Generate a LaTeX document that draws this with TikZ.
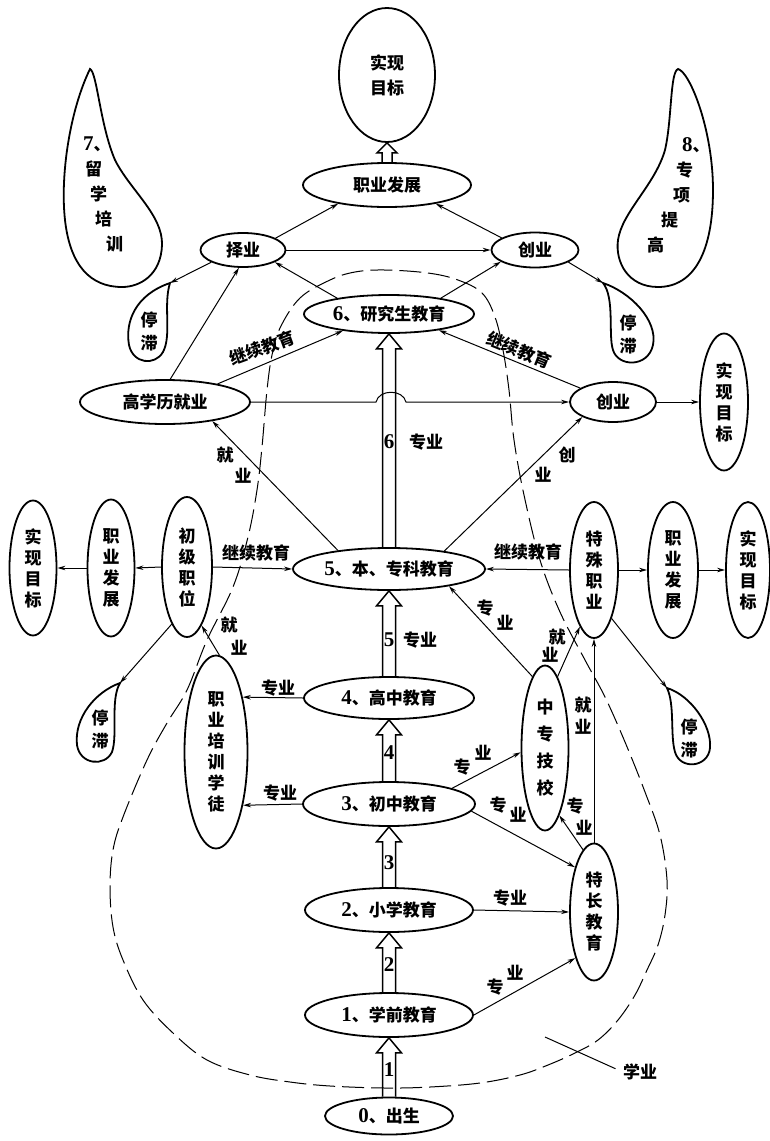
\documentclass[tikz,border=0pt]{standalone}
\usepackage{fontspec}
\setmainfont{Noto Sans CJK SC}
\newfontfamily\numf{Liberation Serif}
\usetikzlibrary{shapes.geometric,arrows.meta,calc}
\newcommand\dg[1]{{\numf\fontsize{21}{21}\selectfont #1}}
\newcommand\hollowar[5]{\draw[hol] ($(#1.north)+(-#3,0)$) -- ($(#2.south)+(-#3,#5)$) -- ($(#2.south)+(-#4,#5)$) -- (#2.south) -- ($(#2.south)+(#4,#5)$) -- ($(#2.south)+(#3,#5)$) -- ($(#1.north)+(#3,0)$);}
\tikzset{
  ell/.style={ellipse, draw, line width=1.8pt, fill=white, inner sep=0pt, align=center,
    font=\fontsize{17}{21}\selectfont\bfseries},
  con/.style={line width=1pt, -{Stealth[length=8pt,width=4.5pt]}},
  lab/.style={inner sep=0pt, font=\fontsize{17}{21}\selectfont\bfseries},
  hol/.style={line width=1.5pt, line join=miter},
  tear/.style={line width=1.8pt, fill=white},
  dashloop/.style={line width=1pt, dash pattern=on 22pt off 7pt}
}
\begin{document}
\begin{tikzpicture}[x=1pt,y=-1pt]
\fill[white] (0,0) rectangle (770,1141);
\useasboundingbox (0,0) rectangle (770,1141);

% dashed study loop
\draw[dashloop] plot[smooth cycle, tension=0.6] coordinates {(385,270) (428,273) (458,280) (482,293) (495,317) (503,350) (509,390) (514,440) (524,495) (540,560) (560,612) (585,660) (605,697) (625,742) (645,792) (660,835) (667,880) (665,915) (658,945) (647,970) (635,995) (618,1020) (598,1040) (575,1053) (548,1065) (520,1075) (480,1083) (430,1087) (385,1088) (330,1086) (290,1082) (250,1075) (207,1060) (173,1033) (143,1000) (123,960) (113,927) (110,887) (113,850) (123,817) (147,760) (167,723) (187,690) (207,640) (233,587) (248,537) (257,490) (262,447) (267,390) (272,355) (280,328) (300,298) (330,280) (355,272)};

% teardrops
\draw[tear] (90,69) .. controls (97,72) and (100,125) .. (115,160) .. controls (130,190) and (163,215) .. (162,245) .. controls (161,275) and (140,287) .. (122,287) .. controls (90,287) and (70,265) .. (65,220) .. controls (60,175) and (70,110) .. (90,69) -- cycle;
\draw[tear] (678,69) .. controls (690,72) and (713,130) .. (713,190) .. controls (713,250) and (695,287) .. (658,287) .. controls (628,287) and (615,262) .. (618,240) .. controls (622,212) and (655,185) .. (665,150) .. controls (672,120) and (670,72) .. (678,69) -- cycle;
\draw[tear] (170,283) .. controls (163,305) and (172,335) .. (163,352) .. controls (155,366) and (133,364) .. (129,345) .. controls (125,322) and (135,295) .. (170,283) -- cycle;
\draw[tear] (603,283) .. controls (615,298) and (608,335) .. (613,350) .. controls (618,367) and (648,368) .. (653,345) .. controls (658,320) and (630,292) .. (603,283) -- cycle;
\draw[tear] (120,683) .. controls (110,700) and (118,735) .. (112,752) .. controls (105,767) and (80,765) .. (77,745) .. controls (74,718) and (95,692) .. (120,683) -- cycle;
\draw[tear] (667,688) .. controls (690,695) and (712,725) .. (710,748) .. controls (708,768) and (680,770) .. (675,752) .. controls (670,735) and (675,705) .. (667,688) -- cycle;
\coordinate (s1tip) at (170,283);
\coordinate (s2tip) at (603,283);
\coordinate (s3tip) at (120,683);
\coordinate (s4tip) at (667,688);

\node[lab, align=left, font=\fontsize{17}{25}\selectfont\bfseries, anchor=west] (t7) at (83,194) {\dg{7}、\\\hspace*{2pt}留\\\hspace*{7pt}学\\\hspace*{12pt}培\\\hspace*{23pt}训};
\node[lab, align=left, font=\fontsize{17}{25}\selectfont\bfseries, anchor=west] (t8) at (647,195) {\hspace*{35pt}\dg{8}、\\\hspace*{29pt}专\\\hspace*{26pt}项\\\hspace*{14pt}提\\高};
\node[lab, align=center, font=\fontsize{17}{23}\selectfont\bfseries] (st1) at (149,331) {停\\滞};
\node[lab, align=center, font=\fontsize{17}{23}\selectfont\bfseries] (st2) at (628,334) {停\\滞};
\node[lab, align=center, font=\fontsize{17}{23}\selectfont\bfseries] (st3) at (100,729) {停\\滞};
\node[lab, align=center, font=\fontsize{17}{23}\selectfont\bfseries] (st4) at (689,738) {停\\滞};

% main nodes
\node[ell, minimum width=96, minimum height=134] (goal0) at (387,75) {实现\\[4pt]目标};
\node[ell, minimum width=168, minimum height=44] (dev0) at (387,185) {职业发展};
\node[ell, minimum width=85, minimum height=34] (zeye) at (243,250) {择业};
\node[ell, minimum width=87, minimum height=35] (chy1) at (535,250) {创业};
\node[ell, minimum width=170, minimum height=38] (n6) at (389,314) {\dg{6}、研究生教育};
\node[ell, minimum width=170, minimum height=44] (gxl) at (165,402) {高学历就业};
\node[ell, minimum width=86, minimum height=40] (chy2) at (613,402) {创业};
\node[ell, minimum width=48, minimum height=137] (goalR) at (724,402) {实\\现\\目\\标};
\node[ell, minimum width=192, minimum height=42] (n5) at (389,569) {\dg{5}、本、专科教育};
\node[ell, minimum width=50, minimum height=140] (cjzw) at (187,567) {初\\级\\职\\位};
\node[ell, minimum width=47, minimum height=137] (devL) at (111,568) {职\\业\\发\\展};
\node[ell, minimum width=47, minimum height=135] (goalL) at (33,568) {实\\现\\目\\标};
\node[ell, minimum width=48, minimum height=136] (tszy) at (594,570) {特\\殊\\职\\业};
\node[ell, minimum width=50, minimum height=136] (devR) at (673,570) {职\\业\\发\\展};
\node[ell, minimum width=44, minimum height=136] (goalRR) at (748,570) {实\\现\\目\\标};
\node[ell, minimum width=63, minimum height=193] (zypx) at (216,752) {职\\业\\培\\训\\学\\徒};
\node[ell, minimum width=170, minimum height=42] (n4) at (389,698) {\dg{4}、高中教育};
\node[ell, minimum width=172, minimum height=44] (n3) at (389,804) {\dg{3}、初中教育};
\node[ell, minimum width=168, minimum height=44] (n2) at (389,910) {\dg{2}、小学教育};
\node[ell, minimum width=168, minimum height=44] (n1) at (389,1015) {\dg{1}、学前教育};
\node[ell, minimum width=128, minimum height=37] (n0) at (389,1116) {\dg{0}、出生};
\node[ell, minimum width=47, minimum height=165] (zzjx) at (545,748) {中\\[6pt]专\\[6pt]技\\[6pt]校};
\node[ell, minimum width=48, minimum height=137] (tcjy) at (594,912) {特\\长\\教\\育};

% hollow arrows
\hollowar{dev0}{goal0}{5}{10}{10}
\hollowar{n5}{n6}{6.5}{12.5}{15}
\hollowar{n4}{n5}{6.5}{12.5}{15}
\hollowar{n3}{n4}{6.5}{12.5}{15}
\hollowar{n2}{n3}{6.5}{12.5}{15}
\hollowar{n1}{n2}{6.5}{12.5}{15}
\hollowar{n0}{n1}{6.5}{12.5}{15}

% connectors
\draw[con] (zeye.20) -- (dev0.201);
\draw[con] (chy1.160) -- (dev0.339);
\draw[con] (zeye.east) -- (chy1.west);
\draw[con] (zeye.201) -- (s1tip);
\draw[con] (chy1.340) -- (s2tip);
\draw[con] (n6.163) -- (zeye.339);
\draw[con] (n6.17) -- (chy1.199);
\draw[con] (gxl.77) -- (zeye.257);
\draw[con] (gxl.19) -- (n6.200);
\draw[con] (chy2.157) -- (n6.342);
\draw[con] (gxl.east) -- (376,402) .. controls (379,389) and (403,389) .. (406,402) -- (chy2.west);
\draw[con] (chy2.east) -- (goalR.west);
\draw[con] (n5.160) -- (gxl.338);
\draw[con] (n5.18) -- (chy2.206);
\draw[con] (cjzw.east) -- (n5.west);
\draw[con] (tszy.west) -- (n5.east);
\draw[con] (cjzw.west) -- (devL.east);
\draw[con] (devL.west) -- (goalL.east);
\draw[con] (tszy.east) -- (devR.west);
\draw[con] (devR.east) -- (goalRR.west);
\draw[con] (cjzw.255) -- (s3tip);
\draw[con] (tszy.290) -- (s4tip);
\draw[con] (zypx.88) -- (cjzw.284);
\draw[con] (n4.west) -- (zypx.64);
\draw[con] (n3.west) -- (zypx.297);
\draw[con] (n3.14) -- (zzjx.190);
\draw[con] (n3.355) -- (tcjy.113);
\draw[con] (n2.east) -- (tcjy.west);
\draw[con] (n1.east) -- (tcjy.248);
\draw[con] (zzjx.100) -- (n5.344);
\draw[con] (zzjx.80) -- (tszy.256);
\draw[con] (tcjy.north) -- (tszy.south);
\draw[con] (tcjy.100) -- (zzjx.282);

% labels
\node[lab, rotate=20] (lb1) at (262,348) {继续教育};
\node[lab, rotate=-22] (lb2) at (519,350) {继续教育};
\node[lab, anchor=base west] (lb3) at (216.5,461.5) {就\hspace{1pt}\raisebox{-21pt}{业}};
\node[lab] (k6) at (389,442) {\dg{6}};
\node[lab] (lb4) at (426,442) {专业};
\node[lab, anchor=base west] (lb5) at (558.5,461.5) {\llap{\raisebox{-20pt}{业}\hspace{7pt}}创};
\node[lab] (lb6) at (256,553) {继续教育};
\node[lab] (lb7) at (528,552) {继续教育};
\node[lab, anchor=base west] (lb8) at (220.5,631.5) {就\hspace{-7pt}\raisebox{-23pt}{业}};
\node[lab] (lb9) at (278,688) {专业};
\node[lab] (k5) at (389,640) {\dg{5}};
\node[lab] (lb10) at (420,640) {专业};
\node[lab, anchor=base west] (lb11) at (476.5,614.5) {专\hspace{3pt}\raisebox{-15pt}{业}};
\node[lab, anchor=base west] (lb12) at (548.5,643.5) {就\hspace{-24pt}\raisebox{-18pt}{业}};
\node[lab, anchor=base west] (lb13) at (574.5,711.5) {就\hspace{-17pt}\raisebox{-22pt}{业}};
\node[lab] (k4) at (389,753) {\dg{4}};
\node[lab, anchor=base west] (lb14) at (453.5,773.5) {专\hspace{4pt}\raisebox{14pt}{业}};
\node[lab] (lb15) at (280,793) {专业};
\node[lab, anchor=base west] (lb16) at (489.5,811.5) {专\hspace{3pt}\raisebox{-10pt}{业}};
\node[lab, anchor=base west] (lb17) at (566.5,812.5) {专\hspace{-8pt}\raisebox{-22pt}{业}};
\node[lab] (k3) at (389,863) {\dg{3}};
\node[lab] (lb18) at (510,898) {专业};
\node[lab] (k2) at (389,965) {\dg{2}};
\node[lab, anchor=base west] (lb19) at (486.5,993.5) {专\hspace{3pt}\raisebox{14pt}{业}};
\node[lab] (k1) at (389,1070) {\dg{1}};
\node[lab] (xyl) at (640,1072) {学业};
\coordinate (xyp) at (545,1037);
\draw[line width=1pt, shorten >=8pt] (xyp) -- (xyl.west);
\end{tikzpicture}
\end{document}
